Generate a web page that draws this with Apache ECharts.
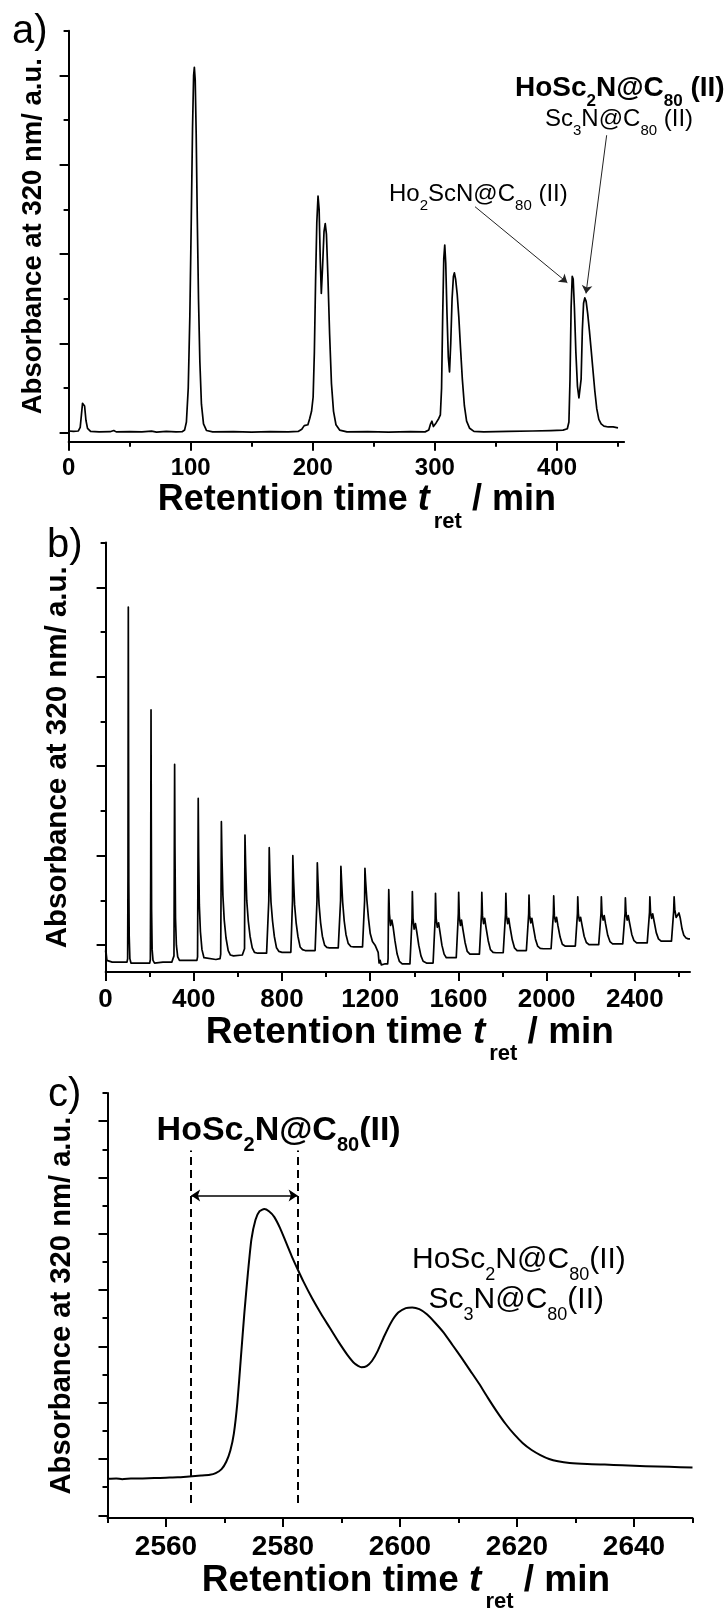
<!DOCTYPE html>
<html>
<head>
<meta charset="utf-8">
<script src="https://cdn.jsdelivr.net/npm/echarts@6/dist/echarts.min.js"></script>
<style>
  html, body { margin: 0; padding: 0; background: #fff; }
  #chart { width: 726px; height: 1614px; }
</style>
</head>
<body>
<div id="chart"></div>
<script>
// Recycling HPLC chromatograms of the HoSc2N@C80 (II) fraction.

// ---- a) first four recycling cycles: [retention time / min, absorbance / a.u.]
const aTrace = [
  [0,0.02],[4,0.015],[8,0.02],[9.5,0.06],[10.5,0.2],[11.4,0.33],[12.2,0.35],[13.1,0.3],[14.2,0.14],[15.5,0.05],[18,0.015],
  [25,0.01],[34,0.012],[37,0.025],[39,0.01],[50,0.012],[60,0.01],[68,0.018],[72,0.008],[80,0.015],[88,0.01],[93,0.012],
  [95,0.03],[96.5,0.12],[98,0.5],[99.3,1.3],[100.5,2.4],[101.5,3.4],[102.4,4.0],[103,4.09],[103.7,3.95],[104.5,3.35],
  [105.4,2.4],[106.4,1.5],[107.5,0.8],[108.8,0.32],[110.5,0.1],[113,0.025],[118,0.01],[135,0.012],[150,0.008],[165,0.012],
  [180,0.01],[188,0.015],[191,0.04],[193,0.08],[194.5,0.1],[196,0.09],[197.5,0.16],[199,0.24],[200.3,0.4],[201.3,0.9],
  [202.3,1.7],[203.3,2.35],[204.3,2.65],[205.2,2.5],[206.1,1.95],[207,1.56],[208,1.85],[209.2,2.25],[210.2,2.34],[211.2,2.22],
  [212.4,1.75],[213.8,1.1],[215.3,0.55],[217,0.24],[219,0.09],[222,0.03],[228,0.01],[245,0.012],[262,0.008],[280,0.012],
  [292,0.01],[295,0.03],[296.5,0.1],[297.6,0.13],[298.8,0.07],[300,0.06],[301,0.11],[302.2,0.09],[303.2,0.16],[304.5,0.2],
  [305.5,0.5],[306.4,1.3],[307.3,1.95],[308.1,2.1],[308.9,1.9],[309.9,1.35],[311,0.85],[312,0.68],[313,1.0],[314.1,1.5],
  [315.2,1.75],[316,1.79],[317,1.72],[318.3,1.55],[319.6,1.3],[321,0.95],[322.5,0.6],[324.2,0.3],[326,0.13],[328.5,0.05],
  [332,0.015],[340,0.01],[360,0.015],[380,0.02],[395,0.025],[405,0.03],[408.5,0.045],[409.8,0.12],[410.7,0.6],[411.6,1.4],
  [412.5,1.75],[413.3,1.72],[414.3,1.4],[415.5,0.9],[416.8,0.52],[418,0.39],[418.9,0.37],[419.8,0.6],[420.8,1.15],[421.8,1.45],
  [422.8,1.51],[423.9,1.47],[425.2,1.33],[426.6,1.14],[428,0.93],[429.5,0.7],[431,0.47],[432.6,0.27],[434.3,0.15],[436.2,0.1],
  [438.5,0.075],[442,0.065],[446,0.065],[448,0.06],[450,0.055]
];

// ---- b) 24 recycling cycles
const bTrace = [
  [0,-0.08],[1.5,-0.03],[3,-0.1],[6,-0.17],[10,-0.19],[30,-0.19],[60,-0.19],[85,-0.19],[97,-0.19],[100,-0.15],
  [101.5,0.8],[102.3,2.5],[103,3.78],[104,2.2],[105.2,0.7],[107,0.1],[110,-0.15],[115,-0.2],
  [150,-0.2],[200,-0.2],[203,-0.16],[204.5,0.8],[205.3,1.8],[206,2.63],[207,1.5],[208.5,0.4],[211,-0.05],[215,-0.17],[222,-0.2],
  [260,-0.19],[300,-0.19],[307,-0.18],[310,-0.12],[311.5,0.9],[313,2.02],[314.5,1.1],[317,0.3],[321,0.0],[327,-0.13],[335,-0.17],
  [380,-0.17],[414,-0.17],[417,-0.13],[418.5,0.7],[420,1.64],[422,1.0],[425,0.45],[430,0.15],[437,-0.05],[446,-0.14],[455,-0.16],
  [500,-0.16],[519,-0.15],[522,-0.1],[523.5,0.6],[525,1.38],[527.5,1.0],[532,0.55],[538,0.28],[546,0.08],[556,-0.06],[566,-0.11],[580,-0.12],
  [620,-0.11],[627,-0.1],[630,-0.04],[631,0.7],[632,1.23],[635,0.9],[640,0.5],[647,0.27],[655,0.1],[665,-0.03],[675,-0.08],[690,-0.09],
  [730,-0.09],[738,-0.08],[740,0.5],[742,1.09],[745,0.8],[750,0.48],[757,0.27],[765,0.1],[775,-0.03],[786,-0.07],[800,-0.08],
  [840,-0.08],[846,-0.06],[847.5,0.5],[849,1.0],[852,0.75],[857,0.45],[864,0.25],[872,0.1],[882,-0.02],[893,-0.05],[905,-0.06],
  [950,-0.06],[957,-0.04],[958.5,0.5],[960,0.92],[963,0.72],[968,0.45],[975,0.25],[983,0.1],[993,0.0],[1003,-0.025],[1015,-0.03],
  [1055,-0.03],[1064,-0.02],[1065.5,0.5],[1067,0.88],[1070,0.72],[1075,0.48],[1082,0.27],[1090,0.12],[1100,0.02],[1112,-0.015],[1125,-0.02],
  [1165,-0.02],[1173,-0.01],[1174.5,0.5],[1176,0.86],[1179,0.72],[1185,0.5],[1192,0.3],[1200,0.13],[1210,0.04],[1222,0.0],[1230,-0.01],
  [1236,-0.08],[1240,-0.2],[1245,-0.17],[1250,-0.22],
  [1265,-0.21],[1279,-0.21],[1281,-0.15],[1282.5,0.35],[1284,0.62],[1287,0.35],[1292,0.22],[1298,0.28],[1304,0.2],[1312,0.05],[1322,-0.1],[1332,-0.18],[1345,-0.21],
  [1380,-0.21],[1387,-0.2],[1389.5,0.3],[1391,0.6],[1394,0.3],[1399,0.18],[1405,0.24],[1411,0.15],[1420,0.0],[1430,-0.12],[1440,-0.18],[1455,-0.2],
  [1485,-0.2],[1492,-0.19],[1494.5,0.3],[1496,0.58],[1499,0.3],[1504,0.2],[1510,0.25],[1516,0.15],[1525,0.0],[1535,-0.1],[1545,-0.14],[1560,-0.14],
  [1590,-0.14],[1597,-0.13],[1599.5,0.35],[1601,0.59],[1604,0.32],[1609,0.22],[1614,0.28],[1620,0.18],[1630,0.03],[1640,-0.07],[1652,-0.1],[1665,-0.1],
  [1695,-0.1],[1702,-0.09],[1704.5,0.35],[1706,0.59],[1709,0.33],[1714,0.24],[1719,0.3],[1725,0.2],[1735,0.05],[1745,-0.05],[1757,-0.08],[1770,-0.085],
  [1803,-0.085],[1811,-0.08],[1813.5,0.35],[1815,0.58],[1818,0.33],[1823,0.24],[1828,0.3],[1834,0.2],[1844,0.06],[1854,-0.03],[1866,-0.06],[1880,-0.06],
  [1908,-0.06],[1916,-0.055],[1918.5,0.35],[1920,0.56],[1923,0.33],[1928,0.25],[1933,0.3],[1939,0.21],[1949,0.07],[1959,-0.01],[1971,-0.035],[1985,-0.04],
  [2020,-0.04],[2028,-0.035],[2030.5,0.35],[2032,0.55],[2035,0.33],[2040,0.26],[2045,0.31],[2051,0.22],[2061,0.09],[2071,0.01],[2083,-0.01],[2097,-0.01],
  [2130,-0.01],[2137,-0.005],[2139.5,0.35],[2141,0.54],[2144,0.34],[2149,0.27],[2154,0.31],[2160,0.23],[2170,0.1],[2180,0.03],[2192,0.005],[2206,0.005],
  [2236,0.005],[2244,0.01],[2246.5,0.36],[2248,0.54],[2251,0.35],[2256,0.28],[2261,0.33],[2267,0.24],[2277,0.11],[2287,0.04],[2299,0.015],[2313,0.015],
  [2345,0.015],[2353,0.02],[2355.5,0.36],[2357,0.53],[2360,0.36],[2365,0.28],[2370,0.33],[2376,0.25],[2386,0.12],[2396,0.05],[2408,0.025],[2422,0.025],
  [2456,0.025],[2464,0.03],[2466.5,0.37],[2468,0.54],[2471,0.37],[2476,0.3],[2481,0.35],[2487,0.27],[2497,0.14],[2507,0.07],[2519,0.045],[2533,0.045],
  [2566,0.045],[2573,0.05],[2576,0.38],[2578,0.54],[2581,0.4],[2587,0.31],[2593,0.3],[2600,0.36],[2606,0.3],[2614,0.18],[2622,0.11],[2632,0.08],[2642,0.07],[2650,0.07]
];

// ---- c) last cycle, expanded
const cTrace = [
  [2550,0.647],[2551.5,0.655],[2552.5,0.642],[2554,0.652],[2556,0.655],[2558,0.66],[2560,0.668],[2562,0.675],[2564,0.69],
  [2566,0.705],[2567.5,0.72],[2568.5,0.75],[2569.5,0.82],[2570.3,0.95],[2571,1.15],[2571.6,1.45],[2572.2,2.0],[2572.8,2.8],
  [2573.4,3.6],[2574,4.3],[2574.6,4.9],[2575.3,5.25],[2576,5.4],[2576.8,5.44],[2577.6,5.4],[2578.5,5.3],[2579.5,5.1],
  [2580.5,4.85],[2581.5,4.6],[2582.5,4.37],[2583.5,4.15],[2585,3.85],[2586.5,3.58],[2588,3.33],[2589.5,3.08],[2591,2.85],
  [2592.3,2.69],[2593.4,2.63],[2594.3,2.65],[2595.2,2.74],[2596.2,2.92],[2597.3,3.18],[2598.5,3.43],[2599.7,3.6],[2601,3.68],
  [2602.1,3.69],[2603.3,3.66],[2604.6,3.57],[2606,3.42],[2607.5,3.24],[2609,3.02],[2610.5,2.8],[2612,2.57],[2613.5,2.34],
  [2615,2.09],[2616.5,1.85],[2618,1.63],[2619.5,1.44],[2621,1.28],[2622.5,1.16],[2624,1.07],[2625.5,1.0],[2627,0.96],
  [2629,0.93],[2632,0.91],[2635,0.9],[2638,0.89],[2642,0.87],[2646,0.86],[2650,0.85]
];

// ---- tick values
const aXMajor = [0, 100, 200, 300, 400];
const aXMinor = [50, 150, 250, 350, 450];
const bXMajor = [0, 400, 800, 1200, 1600, 2000, 2400];
const bXMinor = [200, 600, 1000, 1400, 1800, 2200, 2600];
const cXMajor = [2560, 2580, 2600, 2620, 2640];
const cXMinor = [2550, 2570, 2590, 2610, 2630, 2650];
const abYMajor = [0, 1, 2, 3, 4];
const abYMinor = [0.5, 1.5, 2.5, 3.5, 4.5];
const cYMajor = [0, 1, 2, 3, 4, 5, 6, 7];
const cYMinor = [0.5, 1.5, 2.5, 3.5, 4.5, 5.5, 6.5, 7.5];

// ---- annotation anchors in data coordinates
const aArrowHo2Sc = [[332.9, 2.53], [408.5, 1.68]];
const aArrowSc3 = [[440.7, 3.33], [423.8, 1.56]];
const cCutTimes = [2564.3, 2582.5];
const cCutRange = [0.22, 6.48];
const cSpanLevel = 5.68;

const FONT = "'Liberation Sans', Arial, Helvetica, sans-serif";
const INK = '#000';
const Y_TITLE = 'Absorbance at 320 nm/ a.u.';

function xTitle(size, sub, drop) {
  const pad = Math.round(0.81 * (size - sub) + drop);
  return {
    text: '{m|Retention time }{i|t}{s|ret}{m| / min}',
    rich: {
      m: { fontFamily: FONT, fontWeight: 'bold', fontSize: size, lineHeight: size, verticalAlign: 'top', color: INK },
      i: { fontFamily: FONT, fontWeight: 'bold', fontStyle: 'italic', fontSize: size, lineHeight: size, verticalAlign: 'top', color: INK },
      s: { fontFamily: FONT, fontWeight: 'bold', fontSize: sub, lineHeight: sub, verticalAlign: 'top', padding: [pad, 0, 0, 4], color: INK }
    }
  };
}

function xMajor(grid, min, max, ticks, labelSize, title, gap, shift) {
  return {
    type: 'value', gridIndex: grid, min: min, max: max, position: 'bottom',
    axisLine: { show: true, onZero: false, lineStyle: { color: INK, width: 2 } },
    axisTick: { show: true, inside: false, length: 9, customValues: ticks, lineStyle: { color: INK, width: 2 } },
    axisLabel: {
      show: true, customValues: ticks, margin: 15, color: INK, fontFamily: FONT, fontWeight: 'bold', fontSize: labelSize,
      formatter: v => String(v)
    },
    splitLine: { show: false },
    name: title.text, nameLocation: 'middle', nameGap: gap,
    nameTextStyle: { verticalAlign: 'top', padding: [0, 0, 0, shift], rich: title.rich }
  };
}
function xMinor(grid, min, max, ticks) {
  return {
    type: 'value', gridIndex: grid, min: min, max: max, position: 'bottom',
    axisLine: { show: false, onZero: false },
    axisTick: { show: true, inside: false, length: 5, customValues: ticks, lineStyle: { color: INK, width: 2 } },
    axisLabel: { show: false }, splitLine: { show: false }
  };
}
function yMajor(grid, min, max, ticks, nameSize, gap) {
  return {
    type: 'value', gridIndex: grid, min: min, max: max, position: 'left',
    axisLine: { show: true, onZero: false, lineStyle: { color: INK, width: 2 } },
    axisTick: { show: true, inside: false, length: 9, customValues: ticks, lineStyle: { color: INK, width: 2 } },
    axisLabel: { show: false }, splitLine: { show: false },
    name: Y_TITLE, nameLocation: 'middle', nameRotate: 90, nameGap: gap,
    nameTextStyle: { fontFamily: FONT, fontWeight: 'bold', fontSize: nameSize, color: INK, verticalAlign: 'middle' }
  };
}
function yMinor(grid, min, max, ticks) {
  return {
    type: 'value', gridIndex: grid, min: min, max: max, position: 'left',
    axisLine: { show: false, onZero: false },
    axisTick: { show: true, inside: false, length: 5, customValues: ticks, lineStyle: { color: INK, width: 2 } },
    axisLabel: { show: false }, splitLine: { show: false }
  };
}

// compound names with subscripts, drawn as rich text
function formula(parts, size, sub, drop, weight, left, baseline) {
  const pad = Math.round(0.81 * (size - sub) + drop);
  const text = parts.map(p => p[1] ? '{s|' + p[0] + '}' : '{m|' + p[0] + '}').join('');
  return {
    type: 'text', x: left, y: baseline - 0.81 * size, silent: true,
    style: {
      text: text, align: 'left', verticalAlign: 'top', textAlign: 'left', textVerticalAlign: 'top',
      rich: {
        m: { fontFamily: FONT, fontWeight: weight, fontSize: size, lineHeight: size, verticalAlign: 'top', fill: INK },
        s: { fontFamily: FONT, fontWeight: weight, fontSize: sub, lineHeight: sub, verticalAlign: 'top', padding: [pad, 0, 0, 0], fill: INK }
      }
    }
  };
}
function panelLetter(label, left, baseline) {
  return {
    type: 'text', x: left, y: baseline - 0.81 * 40, silent: true,
    style: { text: label, font: '40px ' + FONT, fill: INK, align: 'left', verticalAlign: 'top', textAlign: 'left', textVerticalAlign: 'top' }
  };
}

const lineStyle = { color: INK, width: 1.7, join: 'round' };

const option = {
  animation: false,
  backgroundColor: '#fff',
  grid: [
    { left: 68.6, top: 30.7, width: 555.5, height: 411 },
    { left: 105.6, top: 542.6, width: 584.4, height: 429.4 },
    { left: 107.5, top: 1093, width: 585, height: 430 }
  ],
  xAxis: [
    xMajor(0, 0, 455, aXMajor, 24, xTitle(36, 22, 18), 25, 21),
    xMinor(0, 0, 455, aXMinor),
    xMajor(1, 0, 2650, bXMajor, 26, xTitle(37, 22, 17), 25, 24),
    xMinor(1, 0, 2650, bXMinor),
    xMajor(2, 2550, 2650, cXMajor, 28, xTitle(37, 22, 17), 23, 12),
    xMinor(2, 2550, 2650, cXMinor)
  ],
  yAxis: [
    yMajor(0, -0.1, 4.5, abYMajor, 27.5, 35),
    yMinor(0, -0.1, 4.5, abYMinor),
    yMajor(1, -0.3, 4.5, abYMajor, 29.5, 48),
    yMinor(1, -0.3, 4.5, abYMinor),
    yMajor(2, -0.05, 7.5, cYMajor, 29.2, 46),
    yMinor(2, -0.05, 7.5, cYMinor)
  ],
  series: [
    {
      type: 'line', xAxisIndex: 0, yAxisIndex: 0, data: aTrace,
      showSymbol: false, symbol: 'none', lineStyle: lineStyle, emphasis: { disabled: true },
      markLine: {
        silent: true, animation: false, symbol: ['none', 'arrow'], symbolSize: 8,
        label: { show: false }, emphasis: { disabled: true },
        lineStyle: { color: '#222', width: 1, type: 'solid' },
        data: [
          [{ coord: aArrowHo2Sc[0] }, { coord: aArrowHo2Sc[1] }],
          [{ coord: aArrowSc3[0] }, { coord: aArrowSc3[1] }]
        ]
      }
    },
    {
      type: 'line', xAxisIndex: 2, yAxisIndex: 2, data: bTrace,
      showSymbol: false, symbol: 'none', lineStyle: lineStyle, emphasis: { disabled: true }
    },
    {
      type: 'line', xAxisIndex: 4, yAxisIndex: 4, data: cTrace, smooth: 0.2,
      showSymbol: false, symbol: 'none', lineStyle: { color: INK, width: 2, join: 'round' }, emphasis: { disabled: true },
      markLine: {
        silent: true, animation: false, symbol: 'none', symbolSize: 9,
        label: { show: false }, emphasis: { disabled: true },
        lineStyle: { color: INK, width: 2, type: [8, 5] },
        data: [
          [{ coord: [cCutTimes[0], cCutRange[0]] }, { coord: [cCutTimes[0], cCutRange[1]] }],
          [{ coord: [cCutTimes[1], cCutRange[0]] }, { coord: [cCutTimes[1], cCutRange[1]] }],
          [
            { coord: [cCutTimes[0], cSpanLevel], symbol: 'arrow', symbolSize: 9, lineStyle: { type: 'solid', width: 1.5, color: INK } },
            { coord: [cCutTimes[1], cSpanLevel], symbol: 'arrow', symbolSize: 9 }
          ]
        ]
      }
    }
  ],
  graphic: [
    panelLetter('a)', 12, 44),
    panelLetter('b)', 47, 558),
    panelLetter('c)', 48, 1107),
    formula([['HoSc'], ['2', 1], ['N@C'], ['80', 1], [' (II)']], 28, 17, 10, 'bold', 515, 96.7),
    formula([['Sc'], ['3', 1], ['N@C'], ['80', 1], [' (II)']], 24, 15, 9, 'normal', 545, 126.7),
    formula([['Ho'], ['2', 1], ['ScN@C'], ['80', 1], [' (II)']], 24, 15, 8.5, 'normal', 389, 201.7),
    formula([['HoSc'], ['2', 1], ['N@C'], ['80', 1], ['(II)']], 34, 20, 11, 'bold', 156.6, 1141),
    formula([['HoSc'], ['2', 1], ['N@C'], ['80', 1], ['(II)']], 30, 18, 11, 'normal', 412, 1269),
    formula([['Sc'], ['3', 1], ['N@C'], ['80', 1], ['(II)']], 30, 18, 11, 'normal', 428.5, 1309.5)
  ]
};

const chart = echarts.init(document.getElementById('chart'), null, { renderer: 'canvas' });
chart.setOption(option);
</script>
</body>
</html>
